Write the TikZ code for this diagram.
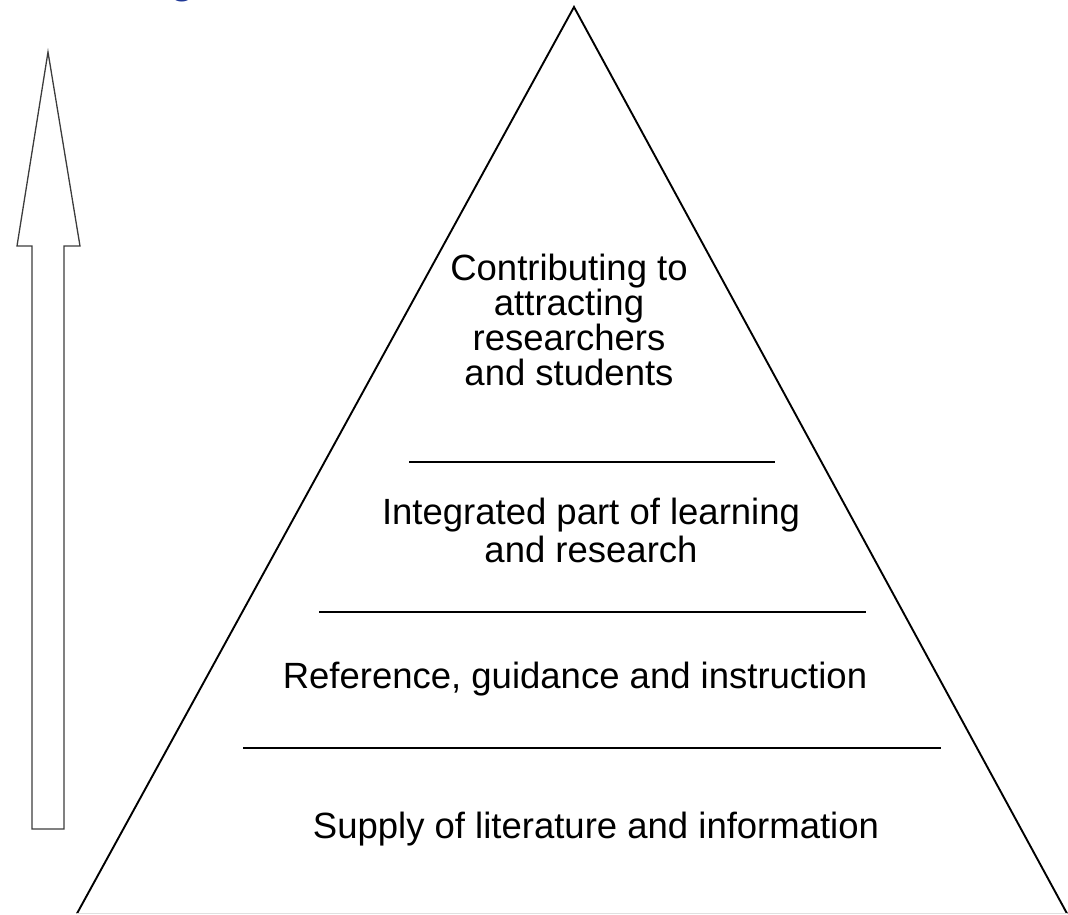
\documentclass[tikz,border=0pt]{standalone}
\usepackage{fontspec}
\setmainfont{Liberation Sans}
\definecolor{titleblue}{RGB}{31,56,150}
\definecolor{outl}{RGB}{60,60,60}
\begin{document}
\begin{tikzpicture}[x=1pt,y=-1pt,
  lbl/.style={font=\fontsize{36.5}{35}\selectfont, align=center, inner sep=0pt, anchor=base},
  tri/.style={draw=black, line width=1.9pt},
  sep/.style={draw=black, line width=1.6pt},
  arrowshape/.style={draw=outl, line width=1.3pt, line join=miter}]
\useasboundingbox (0,0) rectangle (1068,914);
\clip (0,0) rectangle (1068,914);
% cut-off title fragment
\node[text=titleblue, font=\fontsize{40}{40}\selectfont\bfseries, inner sep=0pt, anchor=base] (title) at (183,-7) {g};
% pyramid
\coordinate (apex) at (574,7);
\coordinate (bl) at (77,913.5);
\coordinate (br) at (1067,913.5);
\draw[tri] (bl) -- (apex) -- (br);
\draw[draw=black!12, line width=1pt] (bl) -- (br);
% separators
\coordinate (s1a) at (409,462); \coordinate (s1b) at (775,462);
\coordinate (s2a) at (319,612); \coordinate (s2b) at (866,612);
\coordinate (s3a) at (243,748); \coordinate (s3b) at (941,748);
\draw[sep] (s1a) -- (s1b);
\draw[sep] (s2a) -- (s2b);
\draw[sep] (s3a) -- (s3b);
% labels (base anchor = baseline of last line)
\node[lbl] (l4) at (569,385) {Contributing to\\attracting\\researchers\\and students};
\node[lbl, font=\fontsize{36.5}{38}\selectfont] (l3) at (591,562) {Integrated part of learning\\and research};
\node[lbl] (l2) at (575,688) {Reference, guidance and instruction};
\node[lbl] (l1) at (596,838) {Supply of literature and information};
% up arrow
\draw[arrowshape] (48,52) -- (80,246) -- (64,246) -- (64,829) -- (32,829) -- (32,246) -- (17,246) -- cycle;
\end{tikzpicture}
\end{document}
